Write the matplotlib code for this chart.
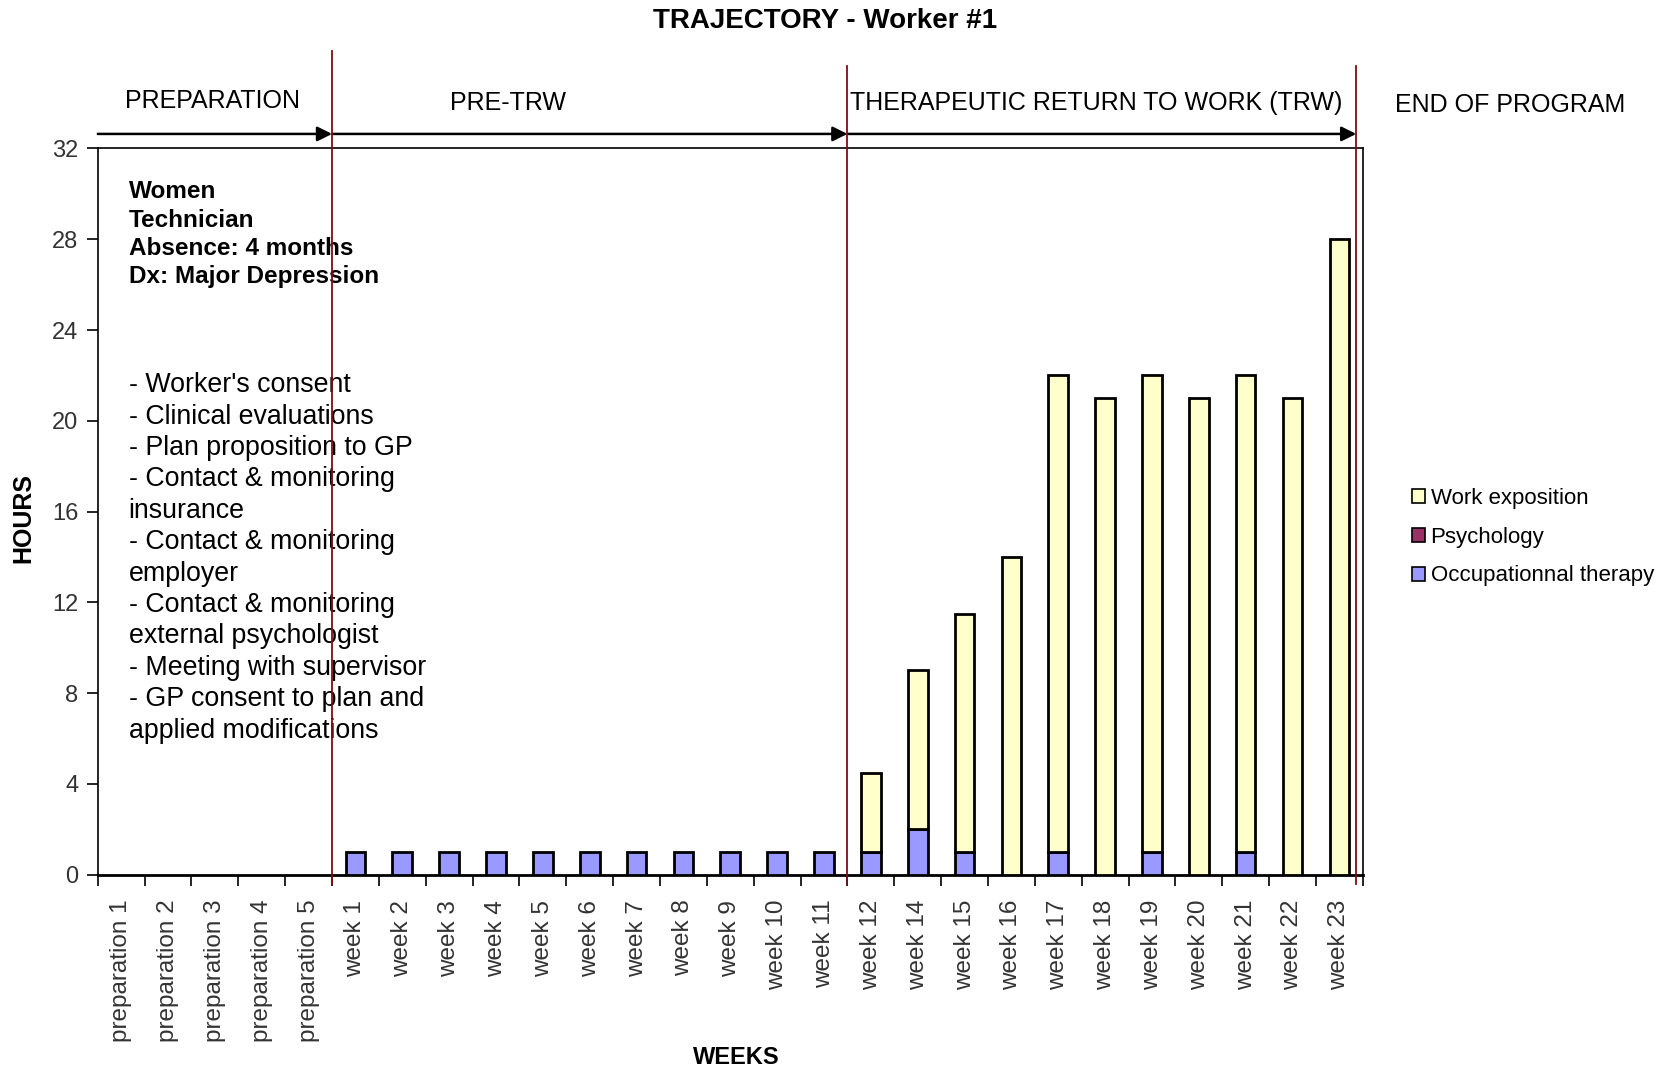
import matplotlib
matplotlib.use("Agg")
import matplotlib.pyplot as plt
import matplotlib.transforms as mtransforms
from matplotlib.patches import Patch

plt.rcParams["font.family"] = ["Liberation Sans", "DejaVu Sans"]

# Weekly hours per activity (week 13 is absent from the program log)
WEEKS = (["preparation %d" % i for i in range(1, 6)]
         + ["week %d" % i for i in range(1, 13)]
         + ["week %d" % i for i in range(14, 24)])
OCCUPATIONAL = [0, 0, 0, 0, 0,
                1, 1, 1, 1, 1, 1, 1, 1, 1, 1, 1, 1,
                2, 1, 0, 1, 0, 1, 0, 1, 0, 0]
PSYCHOLOGY = [0] * 27
WORK_EXPOSITION = [0, 0, 0, 0, 0,
                   0, 0, 0, 0, 0, 0, 0, 0, 0, 0, 0, 3.5,
                   7, 10.5, 14, 21, 21, 21, 21, 21, 21, 28]

SERIES = [
    ("Occupationnal therapy", OCCUPATIONAL, "#9999ff"),
    ("Psychology", PSYCHOLOGY, "#993366"),
    ("Work exposition", WORK_EXPOSITION, "#ffffcc"),
]

PHASES = ["PREPARATION", "PRE-TRW", "THERAPEUTIC RETURN TO WORK (TRW)", "END OF PROGRAM"]
PHASE_EDGES = [-0.5, 4.5, 15.5, 26.36]

PROFILE = "Women\nTechnician\nAbsence: 4 months\nDx: Major Depression"
STEPS = ("- Worker's consent\n"
         "- Clinical evaluations\n"
         "- Plan proposition to GP\n"
         "- Contact & monitoring\n"
         "insurance\n"
         "- Contact & monitoring\n"
         "employer\n"
         "- Contact & monitoring\n"
         "external psychologist\n"
         "- Meeting with supervisor\n"
         "- GP consent to plan and\n"
         "applied modifications")

DARK_RED = "#7a1010"
TICK_GREY = "#333333"


def main():
    fig = plt.figure(figsize=(16.66, 10.68), dpi=100)
    ax = fig.add_axes([0.0587, 0.181, 0.7593, 0.680])

    x = list(range(len(WEEKS)))
    bottom = [0.0] * len(WEEKS)
    for name, vals, color in SERIES:
        lw = [2.0 if v > 0 else 0.0 for v in vals]
        ax.bar(x, vals, width=0.42, bottom=bottom, color=color,
               edgecolor="black", linewidth=lw, label=name, zorder=3)
        bottom = [b + v for b, v in zip(bottom, vals)]

    ax.set_xlim(-0.5, len(WEEKS) - 0.5)
    ax.set_ylim(0, 32)
    ax.set_yticks(range(0, 33, 4))
    ax.set_xticks(x)
    ax.set_xticklabels(WEEKS, rotation=90, fontsize=17.5, color=TICK_GREY)
    ax.set_xticks([i - 0.5 for i in range(len(WEEKS) + 1)], minor=True)
    ax.tick_params(axis="x", which="major", length=0, pad=18)
    ax.tick_params(axis="x", which="minor", length=8, width=1.2, direction="out")
    ax.tick_params(axis="y", length=8, width=1.2, labelsize=17,
                   labelcolor=TICK_GREY, pad=6)
    for side in ("top", "right", "left"):
        ax.spines[side].set_linewidth(1.2)
    ax.spines["bottom"].set_linewidth(2.0)

    # Profile and pre-TRW steps written inside the plot
    ax.text(0.0243, 0.956, PROFILE, transform=ax.transAxes, va="top",
            ha="left", fontsize=17.5, fontweight="bold", linespacing=1.29)
    ax.text(0.0243, 0.692, STEPS, transform=ax.transAxes, va="top",
            ha="left", fontsize=19.3, linespacing=1.27)

    # Phase separators and arrows above the plot
    blend = mtransforms.blended_transform_factory(ax.transData, fig.transFigure)
    tops = [None, 0.952, 0.938, 0.938]
    for edge, top in zip(PHASE_EDGES[1:], tops[1:]):
        ax.plot([edge, edge], [0.172, top], transform=blend, color=DARK_RED,
                lw=1.3, clip_on=False, zorder=5)
    for a, b in zip(PHASE_EDGES[:-1], PHASE_EDGES[1:]):
        ax.annotate("", xy=(b, 0.8746), xytext=(a, 0.8746),
                    xycoords=blend, textcoords=blend,
                    arrowprops=dict(arrowstyle="-|>", color="black", lw=1.8,
                                    mutation_scale=22, shrinkA=0, shrinkB=0))

    label_pos = [(0.1276, 0.9055), (0.3048, 0.9035), (0.658, 0.9035), (0.9062, 0.9015)]
    for text, (px, py) in zip(PHASES, label_pos):
        fig.text(px, py, text, ha="center", va="center", fontsize=18)

    fig.text(0.4955, 0.980, "TRAJECTORY - Worker #1", ha="center", va="center",
             fontsize=20, fontweight="bold")
    fig.text(0.014, 0.5154, "HOURS", rotation=90, ha="center", va="center",
             fontsize=18, fontweight="bold")
    fig.text(0.442, 0.010, "WEEKS", ha="center", va="center", fontsize=17,
             fontweight="bold")

    handles = [Patch(facecolor=c, edgecolor="black", linewidth=1.2, label=n)
               for n, _, c in reversed(SERIES)]
    fig.legend(handles=handles, loc="center left", bbox_to_anchor=(0.842, 0.497),
               frameon=False, fontsize=16, handlelength=0.6, handleheight=0.6,
               handletextpad=0.25, labelspacing=0.8, borderaxespad=0)

    fig.savefig("out.png", dpi=100)


if __name__ == "__main__":
    main()
